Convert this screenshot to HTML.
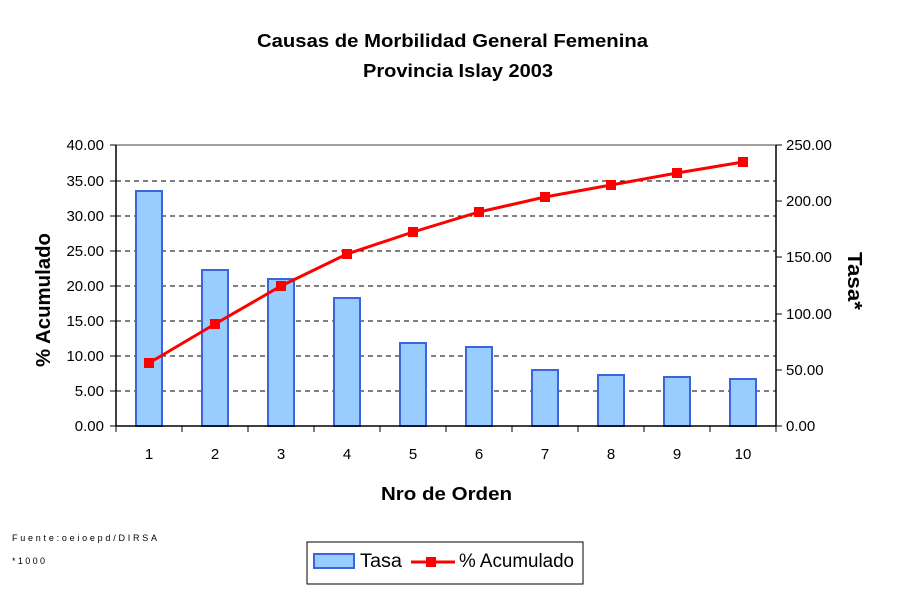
<!DOCTYPE html>
<html><head><meta charset="utf-8"><style>body{margin:0;background:#fff}svg{display:block}</style></head><body>
<svg width="900" height="600" viewBox="0 0 900 600" xmlns="http://www.w3.org/2000/svg" font-family="Liberation Sans, Arial, sans-serif">
<rect width="900" height="600" fill="#fff"/>
<text x="257" y="47" font-size="18" font-weight="bold" textLength="391" lengthAdjust="spacingAndGlyphs">Causas de Morbilidad General Femenina</text>
<text x="363" y="77" font-size="18" font-weight="bold" textLength="190" lengthAdjust="spacingAndGlyphs">Provincia Islay 2003</text>
<g stroke="#000" stroke-dasharray="5,4" stroke-width="1">
<line x1="116" y1="181" x2="776" y2="181"/><line x1="116" y1="216" x2="776" y2="216"/>
<line x1="116" y1="251" x2="776" y2="251"/><line x1="116" y1="286" x2="776" y2="286"/>
<line x1="116" y1="321" x2="776" y2="321"/><line x1="116" y1="356" x2="776" y2="356"/>
<line x1="116" y1="391" x2="776" y2="391"/>
</g>
<line x1="116" y1="145" x2="776" y2="145" stroke="#808080" stroke-width="1.5"/>
<g fill="#99ccff" stroke="#3c64dc" stroke-width="2">
<rect x="136" y="191" width="26" height="235"/>
<rect x="202" y="270" width="26" height="156"/>
<rect x="268" y="279" width="26" height="147"/>
<rect x="334" y="298" width="26" height="128"/>
<rect x="400" y="343" width="26" height="83"/>
<rect x="466" y="347" width="26" height="79"/>
<rect x="532" y="370" width="26" height="56"/>
<rect x="598" y="375" width="26" height="51"/>
<rect x="664" y="377" width="26" height="49"/>
<rect x="730" y="379" width="26" height="47"/>
</g>
<g stroke="#000" stroke-width="1.5">
<line x1="116" y1="145" x2="116" y2="426"/><line x1="776" y1="145" x2="776" y2="426"/>
<line x1="116" y1="426" x2="776" y2="426"/>
</g>
<g stroke="#000" stroke-width="1">
<line x1="110" y1="145" x2="116" y2="145"/><line x1="110" y1="181" x2="116" y2="181"/><line x1="110" y1="216" x2="116" y2="216"/><line x1="110" y1="251" x2="116" y2="251"/><line x1="110" y1="286" x2="116" y2="286"/><line x1="110" y1="321" x2="116" y2="321"/><line x1="110" y1="356" x2="116" y2="356"/><line x1="110" y1="391" x2="116" y2="391"/><line x1="110" y1="426" x2="116" y2="426"/>
<line x1="776" y1="145" x2="782" y2="145"/><line x1="776" y1="201" x2="782" y2="201"/><line x1="776" y1="257" x2="782" y2="257"/><line x1="776" y1="314" x2="782" y2="314"/><line x1="776" y1="370" x2="782" y2="370"/><line x1="776" y1="426" x2="782" y2="426"/>
<line x1="182" y1="426" x2="182" y2="432"/><line x1="248" y1="426" x2="248" y2="432"/><line x1="314" y1="426" x2="314" y2="432"/><line x1="380" y1="426" x2="380" y2="432"/><line x1="446" y1="426" x2="446" y2="432"/><line x1="512" y1="426" x2="512" y2="432"/><line x1="578" y1="426" x2="578" y2="432"/><line x1="644" y1="426" x2="644" y2="432"/><line x1="710" y1="426" x2="710" y2="432"/><line x1="116" y1="426" x2="116" y2="432"/><line x1="776" y1="426" x2="776" y2="432"/>
</g>
<polyline fill="none" stroke="#ff0000" stroke-width="3" points="149,363 215,324 281,286 347,254 413,232 479,212 545,197 611,185 677,173 743,162"/>
<g fill="#ff0000">
<rect x="144" y="358" width="10" height="10"/><rect x="210" y="319" width="10" height="10"/><rect x="276" y="281" width="10" height="10"/><rect x="342" y="249" width="10" height="10"/><rect x="408" y="227" width="10" height="10"/><rect x="474" y="207" width="10" height="10"/><rect x="540" y="192" width="10" height="10"/><rect x="606" y="180" width="10" height="10"/><rect x="672" y="168" width="10" height="10"/><rect x="738" y="157" width="10" height="10"/>
</g>
<g font-size="15" text-anchor="end">
<text x="104" y="150">40.00</text><text x="104" y="186">35.00</text><text x="104" y="221">30.00</text><text x="104" y="256">25.00</text><text x="104" y="291">20.00</text><text x="104" y="326">15.00</text><text x="104" y="361">10.00</text><text x="104" y="396">5.00</text><text x="104" y="431">0.00</text>
</g>
<g font-size="15" text-anchor="start">
<text x="786" y="150">250.00</text><text x="786" y="206">200.00</text><text x="786" y="262">150.00</text><text x="786" y="319">100.00</text><text x="786" y="375">50.00</text><text x="786" y="431">0.00</text>
</g>
<g font-size="15" text-anchor="middle">
<text x="149" y="459">1</text><text x="215" y="459">2</text><text x="281" y="459">3</text><text x="347" y="459">4</text><text x="413" y="459">5</text><text x="479" y="459">6</text><text x="545" y="459">7</text><text x="611" y="459">8</text><text x="677" y="459">9</text><text x="743" y="459">10</text>
</g>
<text x="381" y="500" font-size="18" font-weight="bold" textLength="131" lengthAdjust="spacingAndGlyphs">Nro de Orden</text>
<text transform="translate(50,367) rotate(-90)" font-size="20" font-weight="bold" textLength="134" lengthAdjust="spacingAndGlyphs">% Acumulado</text>
<text transform="translate(848,252) rotate(90)" font-size="20" font-weight="bold" textLength="58" lengthAdjust="spacingAndGlyphs">Tasa*</text>
<text x="12" y="541" font-size="9" textLength="145" lengthAdjust="spacing">Fuente:oeioepd/DIRSA</text>
<text x="12" y="564" font-size="9" textLength="33" lengthAdjust="spacing">*1000</text>
<rect x="307" y="542" width="276" height="42" fill="#fff" stroke="#000" stroke-width="1"/>
<rect x="314" y="554" width="40" height="14" fill="#99ccff" stroke="#3c64dc" stroke-width="2"/>
<text x="360" y="567" font-size="19" textLength="42" lengthAdjust="spacingAndGlyphs">Tasa</text>
<line x1="411" y1="562" x2="455" y2="562" stroke="#ff0000" stroke-width="3"/>
<rect x="426" y="557" width="10" height="10" fill="#ff0000"/>
<text x="459" y="567" font-size="19" textLength="115" lengthAdjust="spacingAndGlyphs">% Acumulado</text>
</svg>
</body></html>
